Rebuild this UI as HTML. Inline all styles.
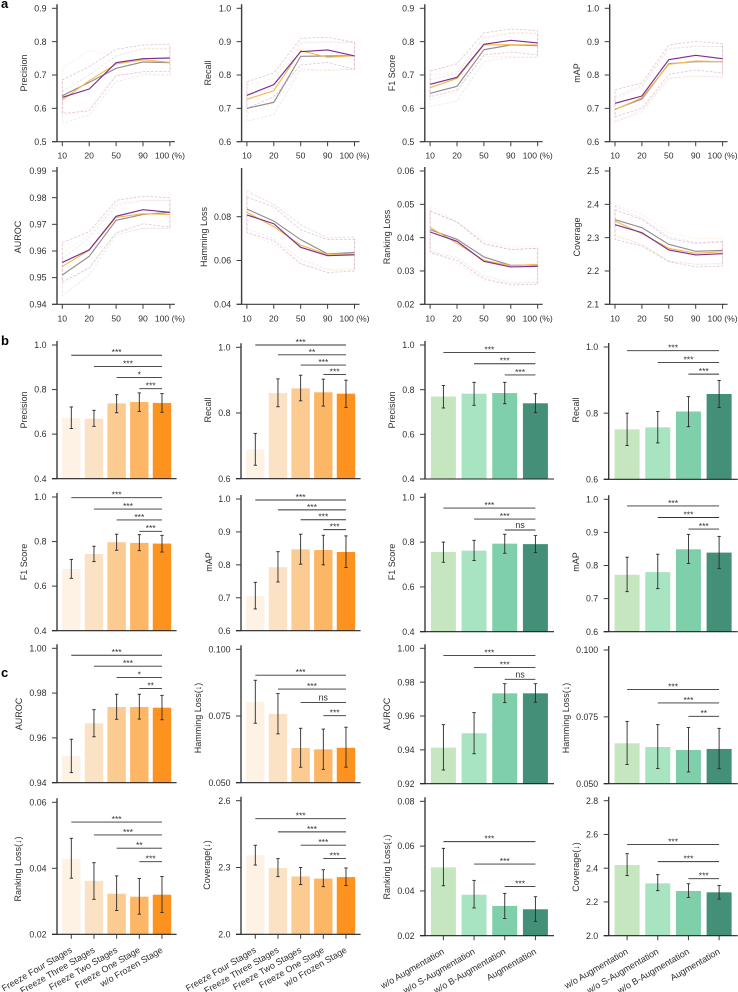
<!DOCTYPE html>
<html>
<head>
<meta charset="utf-8">
<title>Model performance charts</title>
<style>
html,body{margin:0;padding:0;background:#fff;}
svg{display:block;filter:blur(0.3px);}
text{font-family:"Liberation Sans",sans-serif;fill:#2e2e2e;}
</style>
</head>
<body>
<svg id="figure" xmlns="http://www.w3.org/2000/svg" width="738" height="992" viewBox="0 0 738 992"></svg>
<script>
// ---------- Panel a: line chart data ----------
const lineCategories = ['10','20','50','90','100 (%)'];

const precisionTicks = [0.5,0.6,0.7,0.8,0.9];
const precisionGray = [.638,.678,.72,.739,.737];
const precisionGrayUpper = [.65,.70,.757,.778,.778];
const precisionGrayLower = [.555,.58,.68,.70,.70];
const precisionOrange = [.625,.683,.733,.746,.738];
const precisionOrangeUpper = [.72,.773,.757,.78,.78];
const precisionOrangeLower = [.575,.60,.70,.705,.70];
const precisionPurple = [.633,.658,.737,.749,.751];
const precisionPurpleUpper = [.685,.725,.777,.79,.792];
const precisionPurpleLower = [.585,.592,.698,.71,.711];

const recallTicks = [0.6,0.7,0.8,0.9,1.0];
const recallGray = [.70,.718,.856,.857,.858];
const recallGrayUpper = [.74,.76,.895,.90,.897];
const recallGrayLower = [.662,.682,.815,.815,.817];
const recallOrange = [.727,.753,.873,.853,.858];
const recallOrangeUpper = [.77,.79,.90,.899,.897];
const recallOrangeLower = [.685,.715,.82,.812,.818];
const recallPurple = [.739,.771,.87,.875,.857];
const recallPurpleUpper = [.78,.806,.91,.913,.898];
const recallPurpleLower = [.70,.735,.83,.838,.817];

const f1Ticks = [0.5,0.6,0.7,0.8,0.9];
const f1Gray = [.645,.666,.776,.79,.788];
const f1GrayUpper = [.685,.705,.81,.825,.825];
const f1GrayLower = [.605,.622,.74,.753,.753];
const f1Orange = [.662,.69,.79,.791,.79];
const f1OrangeUpper = [.70,.71,.815,.828,.826];
const f1OrangeLower = [.625,.65,.755,.755,.753];
const f1Purple = [.672,.693,.792,.804,.796];
const f1PurpleUpper = [.712,.734,.826,.838,.833];
const f1PurpleLower = [.635,.655,.76,.769,.76];

const mapTicks = [0.6,0.7,0.8,0.9,1.0];
const mapGray = [.697,.728,.834,.84,.84];
const mapGrayUpper = [.73,.765,.878,.885,.885];
const mapGrayLower = [.658,.69,.79,.797,.793];
const mapOrange = [.696,.732,.832,.842,.84];
const mapOrangeUpper = [.735,.77,.88,.887,.885];
const mapOrangeLower = [.66,.695,.79,.797,.795];
const mapPurple = [.715,.737,.846,.859,.849];
const mapPurpleUpper = [.756,.776,.89,.901,.894];
const mapPurpleLower = [.675,.70,.802,.815,.806];

const aurocTicks = [0.94,0.95,0.96,0.97,0.98,0.99];
const aurocGray = [.951,.958,.9715,.9737,.9745];
const aurocGrayUpper = [.957,.965,.977,.979,.979];
const aurocGrayLower = [.9432,.951,.966,.9685,.9685];
const aurocOrange = [.9542,.9603,.9726,.974,.9737];
const aurocOrangeUpper = [.959,.966,.978,.979,.979];
const aurocOrangeLower = [.9475,.954,.967,.9685,.9685];
const aurocPurple = [.9557,.9604,.973,.9755,.9745];
const aurocPurpleUpper = [.9632,.9672,.979,.9805,.98];
const aurocPurpleLower = [.9485,.9535,.9668,.9702,.969];

const hammingTicks = [0.04,0.06,0.08];
const hammingGray = [.0835,.078,.0695,.063,.0637];
const hammingGrayUpper = [.092,.0855,.0765,.0705,.0705];
const hammingGrayLower = [.0745,.07,.0605,.056,.056];
const hammingOrange = [.082,.0755,.067,.0628,.063];
const hammingOrangeUpper = [.091,.086,.076,.07,.071];
const hammingOrangeLower = [.0725,.0675,.0585,.0555,.0555];
const hammingPurple = [.0808,.0768,.066,.0622,.0626];
const hammingPurpleUpper = [.089,.0845,.074,.0695,.0697];
const hammingPurpleLower = [.0728,.069,.0585,.0545,.0552];

const rankingTicks = [0.02,0.03,0.04,0.05,0.06];
const rankingGray = [.0424,.0395,.0342,.0317,.0318];
const rankingGrayUpper = [.048,.0447,.0385,.0365,.0368];
const rankingGrayLower = [.036,.034,.0285,.0265,.0265];
const rankingOrange = [.0431,.0383,.0332,.0316,.032];
const rankingOrangeUpper = [.0495,.0445,.0392,.0372,.0373];
const rankingOrangeLower = [.0362,.0322,.0272,.0262,.0265];
const rankingPurple = [.0417,.0389,.0329,.0312,.0314];
const rankingPurpleUpper = [.048,.0447,.0381,.0364,.0368];
const rankingPurpleLower = [.0355,.0332,.0277,.0258,.026];

const coverageTicks = [2.1,2.2,2.3,2.4,2.5];
const coverageGray = [2.354,2.33,2.28,2.259,2.262];
const coverageGrayUpper = [2.395,2.358,2.303,2.285,2.29];
const coverageGrayLower = [2.305,2.28,2.23,2.22,2.222];
const coverageOrange = [2.35,2.312,2.268,2.253,2.258];
const coverageOrangeUpper = [2.398,2.37,2.315,2.297,2.298];
const coverageOrangeLower = [2.31,2.278,2.23,2.22,2.222];
const coveragePurple = [2.339,2.315,2.263,2.248,2.252];
const coveragePurpleUpper = [2.383,2.355,2.297,2.283,2.287];
const coveragePurpleLower = [2.295,2.275,2.228,2.212,2.215];

// ---------- Panels b, c: bar chart data ----------
const freezeCategories = ['Freeze Four Stages','Freeze Three Stages','Freeze Two Stages','Freeze One Stage','w/o Frozen Stage'];
const augCategories = ['w/o Augmentation','w/o S-Augmentation','w/o B-Augmentation','Augmentation'];

const bPrecisionFreezeTicks = [0.4,0.6,0.8,1.0];
const bPrecisionFreeze = [.672,.669,.738,.744,.74];
const bPrecisionFreezeHi = [.722,.707,.777,.785,.782];
const bPrecisionFreezeLo = [.625,.635,.696,.702,.698];
const bPrecisionFreezeSig = [.954,.904,.854,.804];
const bPrecisionFreezeStars = ['***','***','*','***'];

const bRecallFreezeTicks = [0.6,0.8,1.0];
const bRecallFreeze = [.689,.861,.875,.863,.859];
const bRecallFreezeHi = [.738,.904,.915,.903,.90];
const bRecallFreezeLo = [.641,.819,.837,.821,.817];
const bRecallFreezeSig = [1.007,.977,.946,.917];
const bRecallFreezeStars = ['***','**','***','***'];

const bPrecisionAugTicks = [0.4,0.6,0.8,1.0];
const bPrecisionAug = [.769,.782,.785,.739];
const bPrecisionAugHi = [.819,.833,.833,.782];
const bPrecisionAugLo = [.718,.73,.737,.697];
const bPrecisionAugSig = [.966,.916,.866];
const bPrecisionAugStars = ['***','***','***'];

const bRecallAugTicks = [0.6,0.8,1.0];
const bRecallAug = [.751,.757,.805,.858];
const bRecallAugHi = [.80,.805,.85,.899];
const bRecallAugLo = [.702,.71,.759,.817];
const bRecallAugSig = [.989,.953,.918];
const bRecallAugStars = ['***','***','***'];

const bF1FreezeTicks = [0.4,0.6,0.8,1.0];
const bF1Freeze = [.677,.744,.797,.794,.791];
const bF1FreezeHi = [.72,.779,.833,.831,.828];
const bF1FreezeLo = [.635,.71,.761,.759,.753];
const bF1FreezeSig = [.997,.946,.897,.846];
const bF1FreezeStars = ['***','***','***','***'];

const bMapFreezeTicks = [0.6,0.7,0.8,0.9,1.0];
const bMapFreeze = [.705,.793,.847,.845,.839];
const bMapFreezeHi = [.747,.84,.893,.89,.888];
const bMapFreezeLo = [.666,.748,.802,.80,.792];
const bMapFreezeSig = [.997,.967,.937,.907];
const bMapFreezeStars = ['***','***','***','***'];

const bF1AugTicks = [0.4,0.6,0.8,1.0];
const bF1Aug = [.756,.762,.793,.791];
const bF1AugHi = [.80,.808,.835,.829];
const bF1AugLo = [.71,.718,.75,.753];
const bF1AugSig = [.952,.903,.854];
const bF1AugStars = ['***','***','ns'];

const bMapAugTicks = [0.6,0.7,0.8,0.9,1.0];
const bMapAug = [.772,.78,.849,.839];
const bMapAugHi = [.825,.834,.894,.888];
const bMapAugLo = [.721,.73,.806,.791];
const bMapAugSig = [.98,.945,.91];
const bMapAugStars = ['***','***','***'];

const cAurocFreezeTicks = [0.94,0.96,0.98,1.00];
const cAurocFreeze = [.9519,.9665,.9738,.9738,.9735];
const cAurocFreezeHi = [.9594,.9726,.9795,.9795,.979];
const cAurocFreezeLo = [.9445,.9605,.9683,.9684,.9681];
const cAurocFreezeSig = [.9969,.992,.987,.9821];
const cAurocFreezeStars = ['***','***','*','**'];

const cHammingFreezeTicks = [0.050,0.075,0.100];
const cHammingFreeze = [.0803,.0758,.063,.0625,.0631];
const cHammingFreezeHi = [.0884,.0834,.0704,.0701,.0708];
const cHammingFreezeLo = [.0723,.0683,.0558,.055,.0558];
const cHammingFreezeSig = [.0903,.0851,.0801,.0751];
const cHammingFreezeStars = ['***','***','ns','***'];

const cAurocAugTicks = [0.92,0.94,0.96,0.98,1.00];
const cAurocAug = [.9413,.9498,.9734,.9734];
const cAurocAugHi = [.9549,.962,.9791,.9791];
const cAurocAugLo = [.9281,.9377,.9679,.9681];
const cAurocAugSig = [.9957,.9886,.9817];
const cAurocAugStars = ['***','***','ns'];

const cHammingAugTicks = [0.050,0.075,0.100];
const cHammingAug = [.0651,.0637,.0626,.063];
const cHammingAugHi = [.0733,.0721,.071,.0707];
const cHammingAugLo = [.0572,.0557,.0544,.0556];
const cHammingAugSig = [.0852,.0802,.0752];
const cHammingAugStars = ['***','***','**'];

const cRankingFreezeTicks = [0.02,0.04,0.06];
const cRankingFreeze = [.0429,.0362,.0323,.0314,.032];
const cRankingFreezeHi = [.0491,.0417,.0377,.0369,.0375];
const cRankingFreezeLo = [.037,.0306,.0272,.0261,.0266];
const cRankingFreezeSig = [.054,.0501,.0461,.042];
const cRankingFreezeStars = ['***','***','**','***'];

const cCoverageFreezeTicks = [2.0,2.3,2.6];
const cCoverageFreeze = [2.355,2.298,2.26,2.25,2.257];
const cCoverageFreezeHi = [2.40,2.34,2.30,2.29,2.298];
const cCoverageFreezeLo = [2.311,2.259,2.223,2.214,2.219];
const cCoverageFreezeSig = [2.519,2.46,2.40,2.34];
const cCoverageFreezeStars = ['***','***','***','***'];

const cRankingAugTicks = [0.02,0.04,0.06,0.08];
const cRankingAug = [.0505,.0383,.0333,.0318];
const cRankingAugHi = [.059,.0447,.0389,.0374];
const cRankingAugLo = [.0423,.0324,.0277,.0264];
const cRankingAugSig = [.062,.052,.042];
const cRankingAugStars = ['***','***','***'];

const cCoverageAugTicks = [2.0,2.2,2.4,2.6,2.8];
const cCoverageAug = [2.419,2.31,2.265,2.257];
const cCoverageAugHi = [2.486,2.362,2.308,2.298];
const cCoverageAugLo = [2.356,2.267,2.227,2.217];
const cCoverageAugSig = [2.541,2.439,2.338];
const cCoverageAugStars = ['***','***','***'];

// ---------- Drawing ----------
const NS = 'http://www.w3.org/2000/svg';
const fig = document.getElementById('figure');
const AXIS = '#3c3c3c';
const FREEZE_COLORS = ['#fdf2e4','#fbe2c4','#fbcb92','#fdb666','#fd931e'];
const AUG_COLORS = ['#c5e6bf','#a8e4c1','#7fcfaa','#448f78'];
const SERIES_STYLE = [
  {key:'gray', line:'#8f8f8f', band:'#9a86b8', op:0.22},
  {key:'orange', line:'#f9b84b', band:'#f5c98a', op:0.32},
  {key:'purple', line:'#7c2e8f', band:'#b060a8', op:0.38}
];

function mk(tag, attrs, parent, text){
  const n = document.createElementNS(NS, tag);
  for (const k in attrs) n.setAttribute(k, attrs[k]);
  if (text !== undefined) n.textContent = text;
  (parent || fig).appendChild(n);
  return n;
}
function linearScale(v0, v1, p0, p1){
  return function(v){ return p0 + (v - v0) * (p1 - p0) / (v1 - v0); };
}
function tickText(v, digits){ return v.toFixed(digits); }

function drawYAxis(g, c, y, digits){
  const top = c.spineTop !== undefined ? c.spineTop : y(c.vTop) - 4;
  const spine = mk('line', {x1:c.spineX, x2:c.spineX, y1:top, y2:c.yBottom, stroke:AXIS, 'stroke-width':1.4}, g);
  
  
  c.ticks.forEach(function(t){
    const tick = mk('line', {x1:c.spineX - 5, x2:c.spineX, y1:y(t), y2:y(t), stroke:AXIS, 'stroke-width':1}, g);
    
    
    const lab = mk('text', {x:c.spineX - 10.5, y:y(t) + 3.1, 'text-anchor':'end', 'font-size':8.8}, g, tickText(t, digits));
    
    
  });
  const title = mk('text', {x:0, y:0, 'text-anchor':'middle', 'font-size':9,
    transform:'translate(' + (c.labelX + 3.2) + ' ' + c.labelY + ') rotate(-90)'}, g, c.label);
  
  
}

function drawLineChart(c){
  const g = mk('g', {});
  
  
  const y = linearScale(c.vBottom, c.vTop, c.yBottom, c.yTop);
  const x = function(i){ return c.spineX + 5.3 + i * 26.9; };
  drawYAxis(g, c, y, c.digits);
  const xaxis = mk('line', {x1:c.spineX - 5, x2:x(4) + 5, y1:c.yBottom, y2:c.yBottom, stroke:AXIS, 'stroke-width':1.1}, g);
  
  
  lineCategories.forEach(function(cat, i){
    const tick = mk('line', {x1:x(i), x2:x(i), y1:c.yBottom, y2:c.yBottom + 4.5, stroke:AXIS, 'stroke-width':1}, g);
    
    
    const lab = mk('text', {x:x(i), y:c.yBottom + 17, 'text-anchor':'middle', 'font-size':8.6}, g, cat);
    
    
  });
  SERIES_STYLE.forEach(function(s){
    const up = c[s.key + 'Upper'], lo = c[s.key + 'Lower'];
    const pts = up.map(function(v, i){ return x(i) + ',' + y(v); })
      .concat(lo.map(function(v, i){ return x(i) + ',' + y(v); }).reverse()).join(' ');
    const band = mk('polygon', {points:pts, fill:'none', stroke:s.band, 'stroke-opacity':s.op, 'stroke-width':0.8, 'stroke-dasharray':'2.6 1.6'}, g);
    
    
  });
  SERIES_STYLE.forEach(function(s){
    const pts = c[s.key].map(function(v, i){ return x(i) + ',' + y(v); }).join(' ');
    const line = mk('polyline', {points:pts, fill:'none', stroke:s.line, 'stroke-width':1.15}, g);
    
    
  });
}

function drawBarChart(c){
  const g = mk('g', {});
  
  
  const y = linearScale(c.vBottom, c.vTop, c.yBottom, c.yTop);
  const n = c.means.length;
  const step = n === 5 ? 22.67 : 30.67;
  const width = n === 5 ? 18.4 : 25;
  const first = c.spineX + (n === 5 ? 14.3 : 18.4);
  const x = function(i){ return first + i * step; };
  const colors = n === 5 ? FREEZE_COLORS : AUG_COLORS;
  c.means.forEach(function(v, i){
    const bar = mk('rect', {x:x(i) - width / 2, y:y(v), width:width, height:c.yBottom - y(v), fill:colors[i]}, g);
    
    
  });
  drawYAxis(g, c, y, c.digits);
  const xaxis = mk('line', {x1:c.spineX - 5, x2:x(n - 1) + (n === 5 ? 14.6 : 18.6), y1:c.yBottom, y2:c.yBottom, stroke:'#222', 'stroke-width':1.1}, g);
  
  
  c.means.forEach(function(v, i){
    const err = mk('line', {x1:x(i), x2:x(i), y1:y(c.hi[i]), y2:y(c.lo[i]), stroke:'#2a2a2a', 'stroke-width':0.9}, g);
    
    
    const capTop = mk('line', {x1:x(i) - 1.7, x2:x(i) + 1.7, y1:y(c.hi[i]), y2:y(c.hi[i]), stroke:'#2a2a2a', 'stroke-width':0.9}, g);
    
    
    const capBottom = mk('line', {x1:x(i) - 1.7, x2:x(i) + 1.7, y1:y(c.lo[i]), y2:y(c.lo[i]), stroke:'#2a2a2a', 'stroke-width':0.9}, g);
    
    
  });
  c.sig.forEach(function(v, i){
    const sx = x(i), ex = x(n - 1);
    const bracket = mk('line', {x1:sx, x2:ex, y1:y(v), y2:y(v), stroke:'#333', 'stroke-width':0.9}, g);
    
    
    const isNs = c.stars[i] === 'ns';
    const star = mk('text', {x:(sx + ex) / 2, y:y(v) - (isNs ? 1.8 : 0.1), 'text-anchor':'middle', 'font-size':isNs ? 8.8 : 8.5}, g, c.stars[i]);
    
    
  });
  if (c.showCats){
    const cats = n === 5 ? freezeCategories : augCategories;
    cats.forEach(function(cat, i){
      const tick = mk('line', {x1:x(i), x2:x(i), y1:c.yBottom, y2:c.yBottom + 4.5, stroke:AXIS, 'stroke-width':1}, g);
      
      
      const lab = mk('text', {x:0, y:0, 'text-anchor':'end', 'font-size':9,
        transform:'translate(' + (x(i) + 1.5) + ' ' + (c.yBottom + 17.5) + ') rotate(-30)'}, g, cat);
      
      
    });
  }
}

// Line charts
drawLineChart({name:'precision-line-chart', label:'Precision', labelX:24, labelY:73, spineX:57, yBottom:141.7, yTop:8.3, vBottom:.5, vTop:.9, digits:1, ticks:precisionTicks,
  gray:precisionGray, grayUpper:precisionGrayUpper, grayLower:precisionGrayLower, orange:precisionOrange, orangeUpper:precisionOrangeUpper, orangeLower:precisionOrangeLower, purple:precisionPurple, purpleUpper:precisionPurpleUpper, purpleLower:precisionPurpleLower});
drawLineChart({name:'recall-line-chart', label:'Recall', labelX:208, labelY:73, spineX:241.6, yBottom:141.7, yTop:8.3, vBottom:.6, vTop:1.0, digits:1, ticks:recallTicks,
  gray:recallGray, grayUpper:recallGrayUpper, grayLower:recallGrayLower, orange:recallOrange, orangeUpper:recallOrangeUpper, orangeLower:recallOrangeLower, purple:recallPurple, purpleUpper:recallPurpleUpper, purpleLower:recallPurpleLower});
drawLineChart({name:'f1-line-chart', label:'F1 Score', labelX:392, labelY:73, spineX:424.8, yBottom:141.7, yTop:8.3, vBottom:.5, vTop:.9, digits:1, ticks:f1Ticks,
  gray:f1Gray, grayUpper:f1GrayUpper, grayLower:f1GrayLower, orange:f1Orange, orangeUpper:f1OrangeUpper, orangeLower:f1OrangeLower, purple:f1Purple, purpleUpper:f1PurpleUpper, purpleLower:f1PurpleLower});
drawLineChart({name:'map-line-chart', label:'mAP', labelX:577, labelY:73, spineX:609.7, yBottom:141.7, yTop:8.3, vBottom:.6, vTop:1.0, digits:1, ticks:mapTicks,
  gray:mapGray, grayUpper:mapGrayUpper, grayLower:mapGrayLower, orange:mapOrange, orangeUpper:mapOrangeUpper, orangeLower:mapOrangeLower, purple:mapPurple, purpleUpper:mapPurpleUpper, purpleLower:mapPurpleLower});
drawLineChart({name:'auroc-line-chart', label:'AUROC', labelX:18, labelY:237, spineX:57, yBottom:304.3, yTop:171, vBottom:.94, vTop:.99, digits:2, ticks:aurocTicks,
  gray:aurocGray, grayUpper:aurocGrayUpper, grayLower:aurocGrayLower, orange:aurocOrange, orangeUpper:aurocOrangeUpper, orangeLower:aurocOrangeLower, purple:aurocPurple, purpleUpper:aurocPurpleUpper, purpleLower:aurocPurpleLower});
drawLineChart({name:'hamming-line-chart', label:'Hamming Loss', labelX:204, labelY:237, spineX:241.6, yBottom:304.3, yTop:216.7, vBottom:.04, vTop:.08, digits:2, spineTop:168, ticks:hammingTicks,
  gray:hammingGray, grayUpper:hammingGrayUpper, grayLower:hammingGrayLower, orange:hammingOrange, orangeUpper:hammingOrangeUpper, orangeLower:hammingOrangeLower, purple:hammingPurple, purpleUpper:hammingPurpleUpper, purpleLower:hammingPurpleLower});
drawLineChart({name:'ranking-line-chart', label:'Ranking Loss', labelX:387, labelY:237, spineX:424.8, yBottom:304.3, yTop:171, vBottom:.02, vTop:.06, digits:2, ticks:rankingTicks,
  gray:rankingGray, grayUpper:rankingGrayUpper, grayLower:rankingGrayLower, orange:rankingOrange, orangeUpper:rankingOrangeUpper, orangeLower:rankingOrangeLower, purple:rankingPurple, purpleUpper:rankingPurpleUpper, purpleLower:rankingPurpleLower});
drawLineChart({name:'coverage-line-chart', label:'Coverage', labelX:577, labelY:237, spineX:609.7, yBottom:304.3, yTop:171, vBottom:2.1, vTop:2.5, digits:1, ticks:coverageTicks,
  gray:coverageGray, grayUpper:coverageGrayUpper, grayLower:coverageGrayLower, orange:coverageOrange, orangeUpper:coverageOrangeUpper, orangeLower:coverageOrangeLower, purple:coveragePurple, purpleUpper:coveragePurpleUpper, purpleLower:coveragePurpleLower});

// Bar charts, row 1
drawBarChart({name:'precision-freeze-bar-chart', label:'Precision', labelX:24, labelY:410, spineX:57, yBottom:478.7, yTop:345, vBottom:.4, vTop:1.0, digits:1, ticks:bPrecisionFreezeTicks, means:bPrecisionFreeze, hi:bPrecisionFreezeHi, lo:bPrecisionFreezeLo, sig:bPrecisionFreezeSig, stars:bPrecisionFreezeStars});
drawBarChart({name:'recall-freeze-bar-chart', label:'Recall', labelX:208, labelY:410, spineX:241, yBottom:478.7, yTop:347.3, vBottom:.6, vTop:1.0, digits:1, ticks:bRecallFreezeTicks, means:bRecallFreeze, hi:bRecallFreezeHi, lo:bRecallFreezeLo, sig:bRecallFreezeSig, stars:bRecallFreezeStars});
drawBarChart({name:'precision-augmentation-bar-chart', label:'Precision', labelX:392, labelY:410, spineX:425, yBottom:479, yTop:345, vBottom:.4, vTop:1.0, digits:1, ticks:bPrecisionAugTicks, means:bPrecisionAug, hi:bPrecisionAugHi, lo:bPrecisionAugLo, sig:bPrecisionAugSig, stars:bPrecisionAugStars});
drawBarChart({name:'recall-augmentation-bar-chart', label:'Recall', labelX:576, labelY:410, spineX:608.7, yBottom:479.3, yTop:347, vBottom:.6, vTop:1.0, digits:1, ticks:bRecallAugTicks, means:bRecallAug, hi:bRecallAugHi, lo:bRecallAugLo, sig:bRecallAugSig, stars:bRecallAugStars});

// Bar charts, row 2
drawBarChart({name:'f1-freeze-bar-chart', label:'F1 Score', labelX:24, labelY:562, spineX:57, yBottom:630.7, yTop:497, vBottom:.4, vTop:1.0, digits:1, ticks:bF1FreezeTicks, means:bF1Freeze, hi:bF1FreezeHi, lo:bF1FreezeLo, sig:bF1FreezeSig, stars:bF1FreezeStars});
drawBarChart({name:'map-freeze-bar-chart', label:'mAP', labelX:209, labelY:562, spineX:241, yBottom:630.7, yTop:499, vBottom:.6, vTop:1.0, digits:1, ticks:bMapFreezeTicks, means:bMapFreeze, hi:bMapFreezeHi, lo:bMapFreezeLo, sig:bMapFreezeSig, stars:bMapFreezeStars});
drawBarChart({name:'f1-augmentation-bar-chart', label:'F1 Score', labelX:392, labelY:562, spineX:425, yBottom:631.7, yTop:497.3, vBottom:.4, vTop:1.0, digits:1, ticks:bF1AugTicks, means:bF1Aug, hi:bF1AugHi, lo:bF1AugLo, sig:bF1AugSig, stars:bF1AugStars});
drawBarChart({name:'map-augmentation-bar-chart', label:'mAP', labelX:576, labelY:562, spineX:608.7, yBottom:631.7, yTop:499.3, vBottom:.6, vTop:1.0, digits:1, ticks:bMapAugTicks, means:bMapAug, hi:bMapAugHi, lo:bMapAugLo, sig:bMapAugSig, stars:bMapAugStars});

// Bar charts, row 3
drawBarChart({name:'auroc-freeze-bar-chart', label:'AUROC', labelX:19, labelY:714, spineX:57, yBottom:782.7, yTop:648.3, vBottom:.94, vTop:1.0, digits:2, ticks:cAurocFreezeTicks, means:cAurocFreeze, hi:cAurocFreezeHi, lo:cAurocFreezeLo, sig:cAurocFreezeSig, stars:cAurocFreezeStars});
drawBarChart({name:'hamming-freeze-bar-chart', label:'Hamming Loss(\u2193)', labelX:198, labelY:718, spineX:241, yBottom:782.7, yTop:649.3, vBottom:.05, vTop:.1, digits:3, ticks:cHammingFreezeTicks, means:cHammingFreeze, hi:cHammingFreezeHi, lo:cHammingFreezeLo, sig:cHammingFreezeSig, stars:cHammingFreezeStars});
drawBarChart({name:'auroc-augmentation-bar-chart', label:'AUROC', labelX:387, labelY:714, spineX:425, yBottom:783.7, yTop:648.3, vBottom:.92, vTop:1.0, digits:2, ticks:cAurocAugTicks, means:cAurocAug, hi:cAurocAugHi, lo:cAurocAugLo, sig:cAurocAugSig, stars:cAurocAugStars});
drawBarChart({name:'hamming-augmentation-bar-chart', label:'Hamming Loss(\u2193)', labelX:566, labelY:718, spineX:608.7, yBottom:783.7, yTop:650, vBottom:.05, vTop:.1, digits:3, ticks:cHammingAugTicks, means:cHammingAug, hi:cHammingAugHi, lo:cHammingAugLo, sig:cHammingAugSig, stars:cHammingAugStars});

// Bar charts, row 4
drawBarChart({name:'ranking-freeze-bar-chart', label:'Ranking Loss(\u2193)', labelX:18, labelY:869, spineX:57, yBottom:934.3, yTop:802.3, vBottom:.02, vTop:.06, digits:2, ticks:cRankingFreezeTicks, means:cRankingFreeze, hi:cRankingFreezeHi, lo:cRankingFreezeLo, sig:cRankingFreezeSig, stars:cRankingFreezeStars, showCats:true});
drawBarChart({name:'coverage-freeze-bar-chart', label:'Coverage(\u2193)', labelX:207, labelY:865, spineX:241, yBottom:934.3, yTop:800.7, vBottom:2.0, vTop:2.6, digits:1, ticks:cCoverageFreezeTicks, means:cCoverageFreeze, hi:cCoverageFreezeHi, lo:cCoverageFreezeLo, sig:cCoverageFreezeSig, stars:cCoverageFreezeStars, showCats:true});
drawBarChart({name:'ranking-augmentation-bar-chart', label:'Ranking Loss(\u2193)', labelX:387, labelY:867, spineX:425, yBottom:935.7, yTop:801.3, vBottom:.02, vTop:.08, digits:2, ticks:cRankingAugTicks, means:cRankingAug, hi:cRankingAugHi, lo:cRankingAugLo, sig:cRankingAugSig, stars:cRankingAugStars, showCats:true});
drawBarChart({name:'coverage-augmentation-bar-chart', label:'Coverage(\u2193)', labelX:576, labelY:867, spineX:608.7, yBottom:935.7, yTop:800.7, vBottom:2.0, vTop:2.8, digits:1, ticks:cCoverageAugTicks, means:cCoverageAug, hi:cCoverageAugHi, lo:cCoverageAugLo, sig:cCoverageAugSig, stars:cCoverageAugStars, showCats:true});

// Panel letters
const panelA = mk('text', {x:1, y:8, 'font-size':13, 'font-weight':'bold', style:'fill:#000'}, fig, 'a');


const panelB = mk('text', {x:1, y:345, 'font-size':13, 'font-weight':'bold', style:'fill:#000'}, fig, 'b');


const panelC = mk('text', {x:1, y:677, 'font-size':13, 'font-weight':'bold', style:'fill:#000'}, fig, 'c');


</script>
</body>
</html>
